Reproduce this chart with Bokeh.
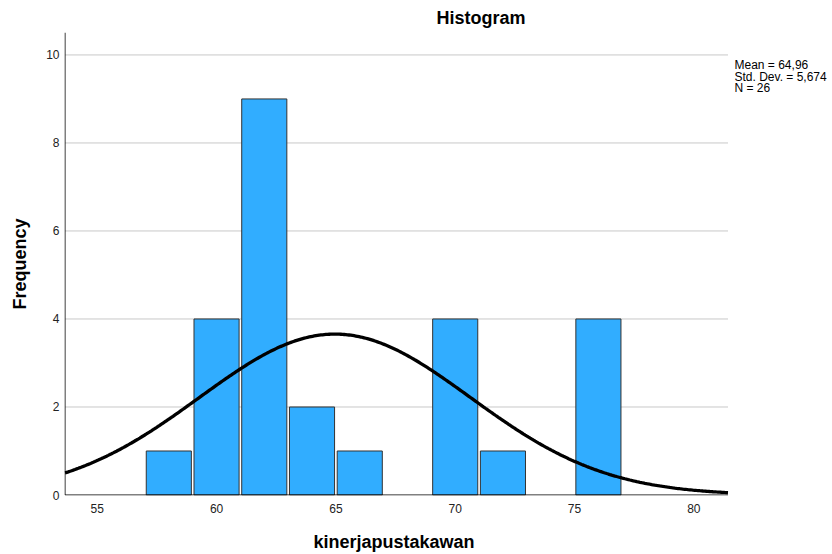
import numpy as np
from bokeh.plotting import figure
from bokeh.models import FixedTicker, Range1d, Label, Title
from bokeh.embed import file_html
from bokeh.resources import INLINE

# ---- data ----
bin_centers = [58, 60, 62, 64, 66, 70, 72, 76]
counts = [1, 4, 9, 2, 1, 4, 1, 4]
bin_width = 2
mean_val = 64.96
std_val = 5.674
n_val = 26
x_ticks = [55, 60, 65, 70, 75, 80]
y_ticks = [0, 2, 4, 6, 8, 10]
title_text = "Histogram"
x_label = "kinerjapustakawan"
y_label = "Frequency"
stats_lines = ["Mean = 64,96", "Std. Dev. = 5,674", "N = 26"]

FONT = "Liberation Sans"
# extent of the plotted area (data units)
x_lo, x_hi = 53.65, 81.43
y_lo, y_hi = 0, 10.51

# frame geometry (pixels) -- the frame is widened to hold the stats block
W, H = 832, 554
LEFT, RIGHT_PLOT, RIGHT_FRAME, TOP, BOTTOM = 64, 727, 830, 32, 495
px_per_x = (RIGHT_PLOT - LEFT) / (x_hi - x_lo)
px_per_y = (BOTTOM - TOP) / (y_hi - y_lo)
xr = Range1d(x_lo - 0.5 / px_per_x, x_lo + (RIGHT_FRAME - LEFT - 0.5) / px_per_x)
yr = Range1d(y_lo - 0.5 / px_per_y, y_hi)

p = figure(width=W, height=H, output_backend="svg", toolbar_location=None,
           x_range=xr, y_range=yr,
           min_border_left=LEFT, min_border_right=W - RIGHT_FRAME,
           min_border_top=TOP, min_border_bottom=H - BOTTOM)
p.outline_line_color = None
p.background_fill_color = "white"
p.border_fill_color = "white"
p.xgrid.grid_line_color = None
p.ygrid.grid_line_color = None

# horizontal grid lines limited to the plot area
grid_vals = [v for v in y_ticks if v > 0]
p.segment(x0=[x_lo] * len(grid_vals), y0=grid_vals, x1=[x_hi] * len(grid_vals), y1=grid_vals,
          line_color="#c8c8c8", line_width=1)

# bars
p.vbar(x=bin_centers, top=counts, width=bin_width * 0.945, bottom=0,
       fill_color="#31adff", line_color="#333333", line_width=1)

# normal curve from mean / std dev / N
xs = np.linspace(x_lo, x_hi, 400)
ys = n_val * bin_width / (std_val * np.sqrt(2 * np.pi)) * np.exp(-0.5 * ((xs - mean_val) / std_val) ** 2)
p.line(xs, ys, line_color="black", line_width=3.3)

# axis lines limited to the plot area
p.segment(x0=[x_lo, x_lo], y0=[y_lo, y_lo], x1=[x_hi, x_lo], y1=[y_lo, y_hi],
          line_color="black", line_width=1)

# axes (tick labels only)
for ax in (p.xaxis[0], p.yaxis[0]):
    ax.axis_line_color = None
    ax.major_tick_line_color = None
    ax.minor_tick_line_color = None
    ax.major_tick_out = 0
    ax.major_tick_in = 0
    ax.major_label_text_font = FONT
    ax.major_label_text_font_size = "12px"
    ax.major_label_text_color = "#222222"
    ax.axis_label_text_font = FONT
    ax.axis_label_text_font_style = "bold"
    ax.axis_label_text_color = "black"

p.xaxis.ticker = FixedTicker(ticks=x_ticks)
p.yaxis.ticker = FixedTicker(ticks=y_ticks)
p.yaxis.axis_label = y_label
p.yaxis.axis_label_text_font_size = "18px"
p.xaxis.major_label_standoff = 8
p.yaxis.major_label_standoff = 5
p.yaxis.axis_label_standoff = 13
# blank spacer below the x tick labels (pushes the x title down)
p.xaxis.axis_label = " "
p.xaxis.axis_label_text_font_size = "2px"
p.xaxis.axis_label_standoff = 6

# title
p.title.text = title_text
p.title.text_font = FONT
p.title.text_font_size = "18px"
p.title.text_font_style = "bold"
p.title.text_color = "black"
p.title.align = "left"
p.title.offset = 372
p.title.standoff = 10

# x axis label as a below-title so that it centres on the plot area
p.add_layout(Title(text=x_label, text_font=FONT, text_font_size="18px", text_font_style="bold",
                   text_color="black", align="left", offset=249, standoff=6), "below")

# stats block
for i, line in enumerate(stats_lines):
    p.add_layout(Label(x=RIGHT_PLOT + 7 - LEFT, y=BOTTOM - 64.5 - 11.5 * i,
                       x_units="screen", y_units="screen", text=line,
                       text_font=FONT, text_font_size="12px", text_color="black",
                       text_align="left", text_baseline="alphabetic"))

open("out.html", "w").write(file_html(p, INLINE))
